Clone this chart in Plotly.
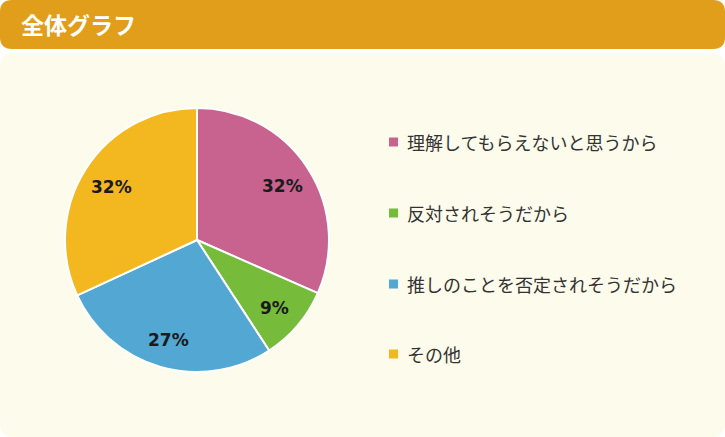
import math
import plotly.graph_objects as go

W, H = 725, 437

labels = ["理解してもらえないと思うから", "反対されそうだから", "推しのことを否定されそうだから", "その他"]
values = [31.6, 9.2, 27.3, 31.9]
colors = ["#C8628F", "#76BB3A", "#52A7D3", "#F3B81F"]
title_text = "全体グラフ"

def px(x):
    return x / W

def py(y):
    return 1 - y / H

def rrect(x0, y0, x1, y1, r):
    pts = [
        f"M {px(x0 + r)},{py(y0)}",
        f"L {px(x1 - r)},{py(y0)}",
        f"Q {px(x1)},{py(y0)} {px(x1)},{py(y0 + r)}",
        f"L {px(x1)},{py(y1 - r)}",
        f"Q {px(x1)},{py(y1)} {px(x1 - r)},{py(y1)}",
        f"L {px(x0 + r)},{py(y1)}",
        f"Q {px(x0)},{py(y1)} {px(x0)},{py(y1 - r)}",
        f"L {px(x0)},{py(y0 + r)}",
        f"Q {px(x0)},{py(y0)} {px(x0 + r)},{py(y0)}",
        "Z",
    ]
    return " ".join(pts)

cx, cy, R = 197, 240, 132

fig = go.Figure(go.Pie(
    labels=labels,
    values=values,
    sort=False,
    direction="clockwise",
    rotation=0,
    marker=dict(colors=colors, line=dict(color="white", width=2)),
    textinfo="none",
    hoverinfo="label+percent",
    domain=dict(x=[px(cx - R), px(cx + R)], y=[py(cy + R), py(cy - R)]),
    showlegend=False,
))

shapes = [
    dict(type="path", path=rrect(0, 0, W, 49, 12), xref="paper", yref="paper",
         fillcolor="#E09E1A", line=dict(width=0), layer="below"),
    dict(type="path", path=rrect(0, 53, W, 437, 14), xref="paper", yref="paper",
         fillcolor="#FDFBEC", line=dict(width=0), layer="below"),
]
annotations = [
    dict(text=f"<b>{title_text}</b>", x=px(19), y=py(24), xref="paper", yref="paper",
         xanchor="left", yanchor="middle", showarrow=False,
         font=dict(family="Noto Sans CJK JP", size=23, color="white")),
]

# percentage labels placed along each slice's mid-angle
total = sum(values)
cum = 0
for v in values:
    mid = (cum + v / 2) / total * 2 * math.pi
    cum += v
    r = 0.77 * R
    lx = cx + r * math.sin(mid)
    ly = cy - r * math.cos(mid)
    annotations.append(dict(text=f"<b>{round(v / total * 100)}%</b>", x=px(lx), y=py(ly),
                            xref="paper", yref="paper", showarrow=False,
                            xanchor="center", yanchor="middle", yshift=-2,
                            font=dict(family="DejaVu Sans", size=17, color="#1a1a1a")))

row_y = [142, 213, 284, 354]
for lab, col, yy in zip(labels, colors, row_y):
    shapes.append(dict(type="rect", xref="paper", yref="paper",
                       x0=px(389), x1=px(398), y0=py(yy + 4.5), y1=py(yy - 4.5),
                       fillcolor=col, line=dict(width=0)))
    annotations.append(dict(text=lab, x=px(405), y=py(yy), xref="paper", yref="paper",
                            xanchor="left", yanchor="middle", showarrow=False,
                            font=dict(family="Noto Sans CJK JP", size=18, color="#333333")))

fig.update_layout(
    width=W, height=H,
    margin=dict(l=0, r=0, t=0, b=0),
    paper_bgcolor="white",
    plot_bgcolor="white",
    shapes=shapes,
    annotations=annotations,
)

fig.write_html("out.html", config={"displayModeBar": False},
               post_script="document.body.style.margin='0';document.body.style.overflow='hidden';")
